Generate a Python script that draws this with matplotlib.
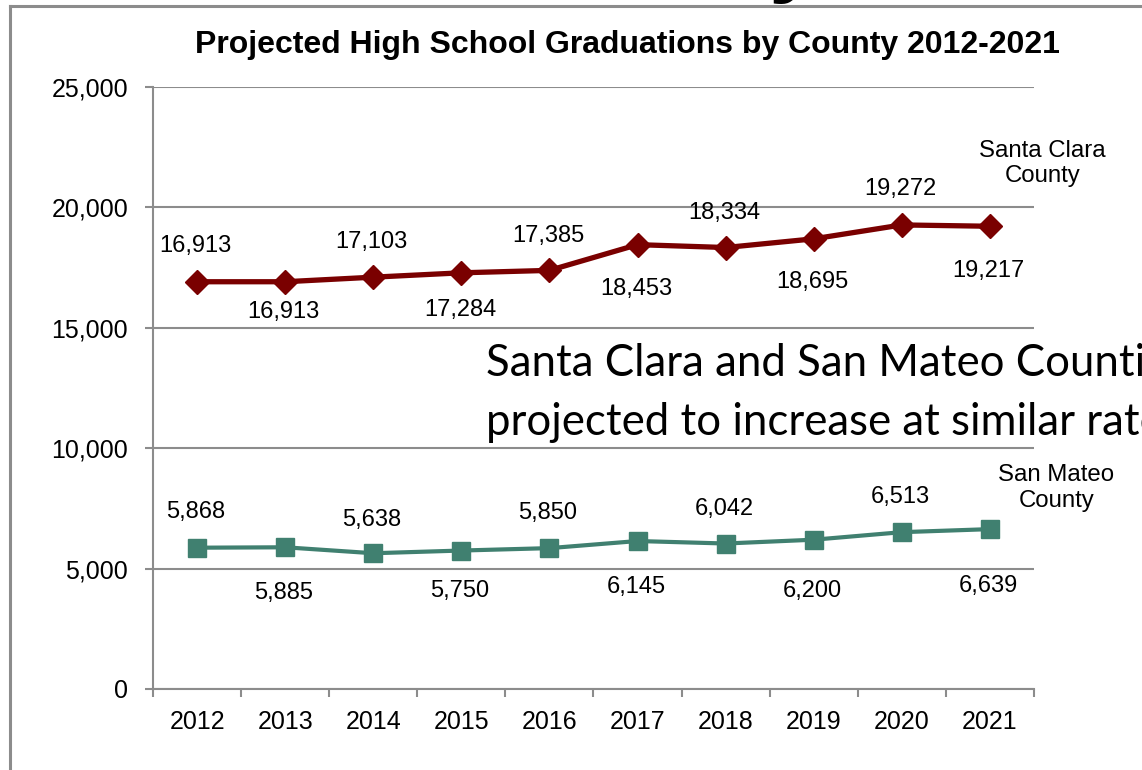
import matplotlib
matplotlib.use('Agg')
import matplotlib.pyplot as plt
from matplotlib.lines import Line2D

years = ['2012', '2013', '2014', '2015', '2016', '2017', '2018', '2019', '2020', '2021']
santa_clara = [16913, 16913, 17103, 17284, 17385, 18453, 18334, 18695, 19272, 19217]
san_mateo = [5868, 5885, 5638, 5750, 5850, 6145, 6042, 6200, 6513, 6639]

# label offsets in points (positive = above the point)
sc_off = [26, -22, 25, -27, 25, -32, 25, -31, 26, -32]
sm_off = [26, -33, 24, -29, 25, -33, 25, -37, 25, -41]

red = '#7a0000'
teal = '#408070'
grey = '#8c8c8c'

plt.rcParams['font.family'] = ['Liberation Sans', 'DejaVu Sans']

fig = plt.figure(figsize=(11.42, 7.70), dpi=100)
ax = fig.add_axes([0.134, 0.1052, 0.7714, 0.7818])

x = list(range(len(years)))
ax.plot(x, santa_clara, color=red, lw=3.8, marker='D', ms=12, zorder=3)
ax.plot(x, san_mateo, color=teal, lw=3.0, marker='s', ms=13.5, zorder=3)

for i, v in enumerate(santa_clara):
    ax.annotate('{:,}'.format(v), (i, v), xytext=(-1, sc_off[i]), textcoords='offset points',
                ha='center', va='center', fontsize=17)
for i, v in enumerate(san_mateo):
    ax.annotate('{:,}'.format(v), (i, v), xytext=(-1, sm_off[i]), textcoords='offset points',
                ha='center', va='center', fontsize=17)

ax.set_xlim(-0.5, len(years) - 0.5)
ax.set_ylim(0, 25000)
ax.set_yticks([0, 5000, 10000, 15000, 20000, 25000])
ax.set_yticklabels(['0', '5,000', '10,000', '15,000', '20,000', '25,000'], fontsize=18)
ax.set_xticks(x)
ax.set_xticklabels(years, fontsize=18)
ax.set_xticks([i - 0.5 for i in range(len(years) + 1)], minor=True)
ax.tick_params(axis='x', which='major', length=0, pad=15)
ax.tick_params(axis='x', which='minor', length=6, width=1.5, color=grey, direction='out')
ax.tick_params(axis='y', length=6, width=1.5, color=grey, pad=12)
ax.grid(axis='y', color=grey, lw=1.5)
ax.set_axisbelow(True)
for s in ['top', 'right']:
    ax.spines[s].set_visible(False)
for s in ['left', 'bottom']:
    ax.spines[s].set_color(grey)
    ax.spines[s].set_linewidth(1.5)

fig.text(0.549, 0.9416, 'Projected High School Graduations by County 2012-2021',
         ha='center', va='center', fontsize=23, fontweight='bold')

fig.text(0.913, 0.788, 'Santa Clara\nCounty', ha='center', va='center', fontsize=17.3,
         linespacing=1.2)
fig.text(0.925, 0.366, 'San Mateo\nCounty', ha='center', va='center', fontsize=17.3,
         linespacing=1.2)

fig.text(0.426, 0.49, 'Santa Clara and San Mateo Counties are\nprojected to increase at similar rates',
         ha='left', va='center', fontsize=31.5, family=['Lato', 'DejaVu Sans'], linespacing=1.55)

# slide frame
fig.add_artist(Line2D([0.0088, 0.0088], [0, 0.9922], color=grey, lw=2.2, transform=fig.transFigure))
fig.add_artist(Line2D([0.0088, 1], [0.9922, 0.9922], color=grey, lw=2.2, transform=fig.transFigure))
fig.text(0.673, 1.019, 'y', fontsize=66, fontweight='bold', va='baseline', ha='left')

fig.savefig('out.png', dpi=100)
